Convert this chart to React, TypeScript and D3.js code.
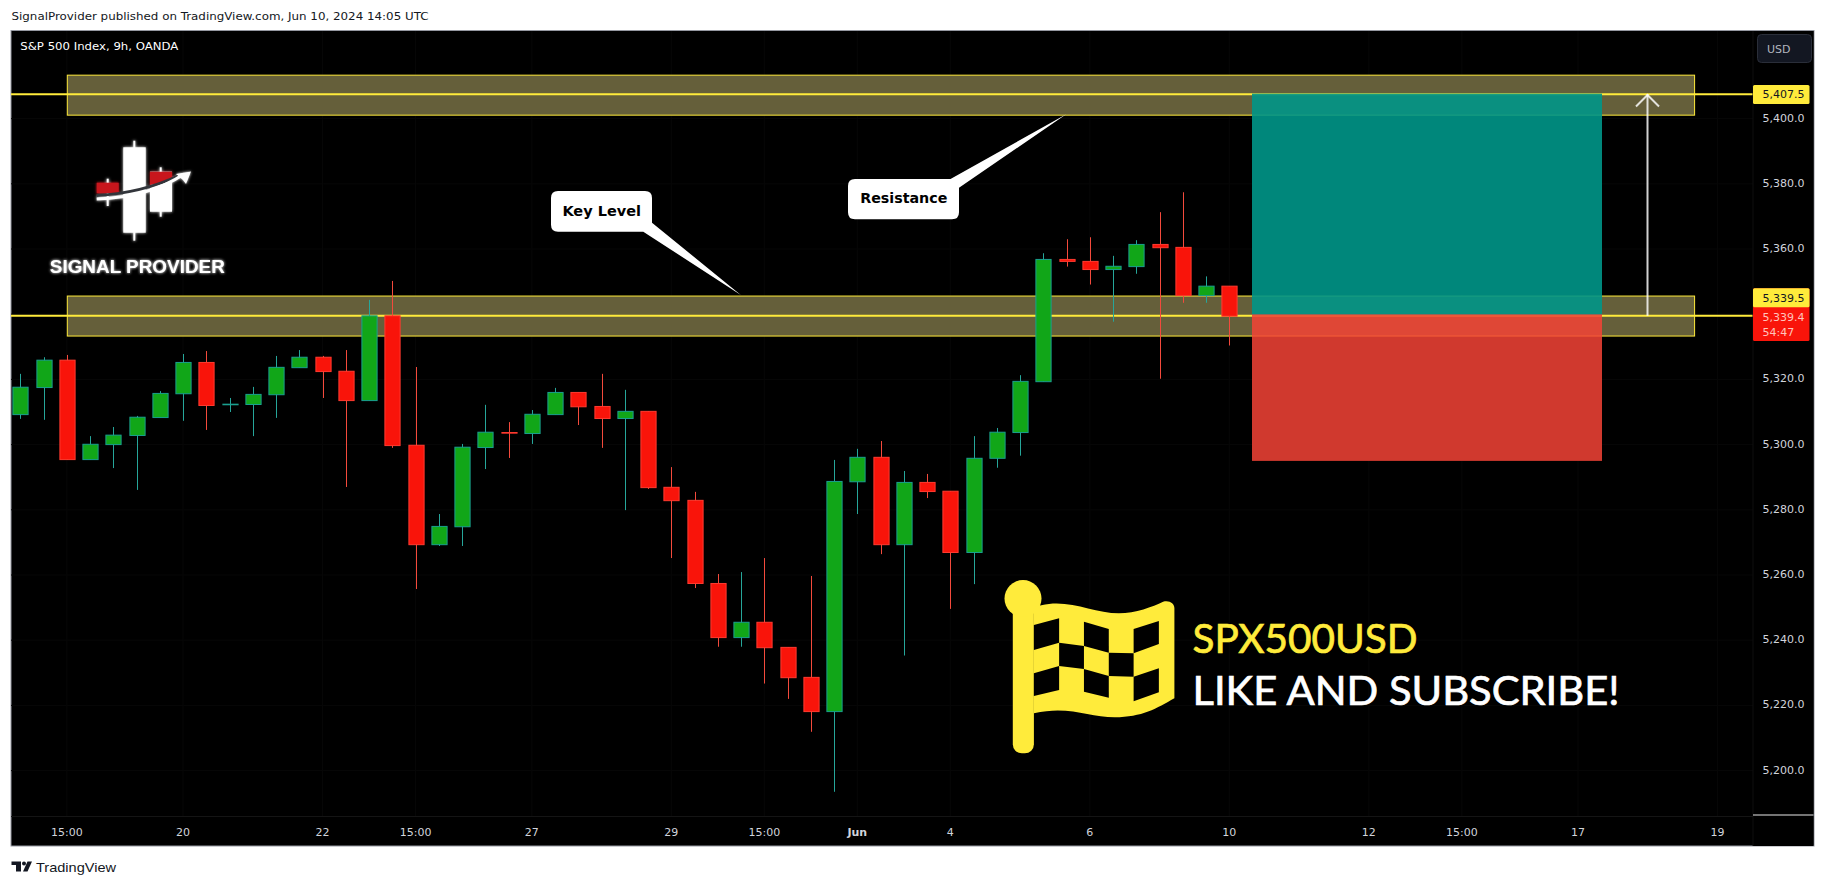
import React from "react";
import * as d3 from "d3";

const opens = [5309.2,5317.5,5325.9,5295.4,5300.0,5302.8,5308.3,5315.6,5325.2,5312.3,5312.3,5315.3,5323.6,5326.8,5322.5,5313.5,5339.5,5299.8,5269.3,5274.8,5299.1,5303.7,5303.4,5309.2,5316.0,5311.7,5308.0,5310.2,5286.9,5282.9,5257.4,5240.8,5245.5,5237.8,5228.6,5218.1,5288.6,5296.1,5269.3,5288.4,5285.7,5266.9,5295.8,5303.7,5319.3,5356.8,5356.2,5353.7,5354.6,5361.4,5360.5,5345.7,5348.6];
const highs = [5321.7,5326.8,5327.5,5302.6,5305.4,5308.8,5316.4,5327.8,5328.7,5314.3,5317.7,5327.2,5329.0,5327.2,5329.0,5344.4,5350.2,5323.8,5278.7,5300.2,5312.2,5306.9,5310.6,5317.4,5316.0,5321.7,5316.8,5310.2,5293.1,5285.5,5260.3,5260.9,5265.2,5237.8,5259.7,5295.3,5298.7,5301.1,5291.9,5291.0,5285.7,5302.6,5305.1,5321.3,5358.7,5363.0,5363.6,5357.9,5362.7,5371.3,5377.4,5351.6,5348.6];
const lows = [5307.9,5307.6,5295.4,5295.4,5292.8,5286.1,5308.3,5307.3,5304.5,5310.0,5302.6,5308.2,5323.6,5314.3,5287.0,5313.5,5299.0,5255.7,5268.9,5268.9,5292.5,5295.9,5300.2,5309.2,5306.0,5299.0,5279.9,5286.4,5265.2,5256.0,5238.0,5238.0,5226.7,5222.0,5211.9,5193.5,5278.7,5266.4,5235.3,5283.6,5249.6,5257.2,5292.9,5296.6,5319.3,5354.6,5349.1,5337.7,5352.4,5320.2,5343.5,5343.5,5330.4];
const closes = [5317.6,5325.9,5295.4,5300.1,5302.9,5308.4,5315.7,5325.2,5312.0,5312.4,5315.4,5323.7,5326.8,5322.4,5313.5,5339.5,5299.7,5269.3,5274.9,5299.2,5303.8,5303.6,5309.3,5316.0,5311.6,5308.0,5310.2,5286.8,5282.8,5257.4,5240.8,5245.5,5237.7,5228.5,5218.1,5288.7,5296.1,5269.3,5288.4,5285.6,5266.9,5295.8,5303.8,5319.4,5356.8,5356.2,5353.7,5354.7,5361.4,5360.4,5345.7,5348.6,5339.4];

const priceTicks = [5400, 5380, 5360, 5340, 5320, 5300, 5280, 5260, 5240, 5220, 5200];
const timeTickIndex = [2, 7, 13, 17, 22, 28, 32, 36, 40, 46, 52, 58, 62, 67, 73];
const timeTickLabels = ["15:00", "20", "22", "15:00", "27", "29", "15:00", "Jun", "4", "6", "10", "12", "15:00", "17", "19"];

const resistanceLevel = 5407.5;
const keyLevel = 5339.5;
const lastPrice = 5339.4;
const countdown = "54:47";
const zoneHalfHeight = 6.13;
const stopLevel = 5295;

const FONT = "'DejaVu Sans', sans-serif";
const YEL = "#ffeb3b";

const fmt = d3.format(",.1f");
const y = d3.scaleLinear().domain([5200, 5400]).range([770.6, 118.6]);
const x = d3.scaleLinear().domain([0, 52]).range([20.3, 1229.3]);

const sx = (v: number) => 980 + v / 2.376;
const sy = (v: number) => 560 + v / 3;
const flagOuter =
  "M146,136 C210,115 270,160 330,160 C370,160 410,140 435,125 C450,120 462,130 462,145 L462,415 C420,445 385,472 320,472 C260,472 210,435 128,460 L128,140 Z";
const scalePath = (d: string) =>
  d.replace(/(-?\d+(?:\.\d+)?),(-?\d+(?:\.\d+)?)/g, (_m, a, b) => `${sx(+a).toFixed(1)},${sy(+b).toFixed(1)}`);
const checks: number[][] = [
  [128, 195, 188, 175, 188, 248, 128, 270],
  [188, 248, 247, 258, 247, 327, 188, 318],
  [128, 340, 188, 318, 188, 390, 128, 408],
  [247, 185, 306, 207, 306, 278, 247, 258],
  [247, 327, 306, 348, 306, 413, 247, 395],
  [306, 278, 365, 280, 365, 350, 306, 348],
  [365, 207, 425, 183, 425, 252, 365, 280],
  [365, 350, 425, 325, 425, 397, 365, 424],
];

export default function App() {
  const ryT = y(resistanceLevel);
  const kyT = y(keyLevel);
  const boxL = 67.3;
  const boxR = 1694.6;
  const posL = 1252;
  const posR = 1602;
  const plotL = 11;
  const plotR = 1753;
  const tw = 15.2;
  const zoneH = y(resistanceLevel - zoneHalfHeight) - ryT;
  return (
    <svg width={1825} height={886} style={{ position: "fixed", left: 0, top: 0, background: "#fff" }}>
      <defs>
        <filter id="glow" x="-30%" y="-30%" width="160%" height="160%">
          <feGaussianBlur stdDeviation="1.8" result="b" />
          <feMerge>
            <feMergeNode in="b" />
            <feMergeNode in="SourceGraphic" />
          </feMerge>
        </filter>
      </defs>
      <text x={11.5} y={20} fontFamily={FONT} fontSize={11} fill="#131722" textLength={417} lengthAdjust="spacingAndGlyphs">
        SignalProvider published on TradingView.com, Jun 10, 2024 14:05 UTC
      </text>
      <rect x={11} y={30.5} width={1803} height={815.5} fill="#000" stroke="#9598a1" strokeWidth={1} />

      {priceTicks.map((p) => (
        <line key={p} x1={plotL} x2={plotR} y1={y(p)} y2={y(p)} stroke="#070707" />
      ))}
      {timeTickIndex.map((i, k) => (
        <line key={k} x1={x(i)} x2={x(i)} y1={31} y2={816} stroke="#070707" />
      ))}

      {[ryT, kyT].map((c, i) => (
        <rect key={i} x={boxL} y={c - zoneH + (i === 0 ? 1 : 0.2)} width={boxR - boxL} height={40} fill="#655f3a" stroke={YEL} strokeWidth={1} />
      ))}
      <line x1={plotL} x2={plotR} y1={ryT} y2={ryT} stroke={YEL} strokeWidth={2} />
      <line x1={plotL} x2={plotR} y1={kyT} y2={kyT} stroke={YEL} strokeWidth={2} />

      {opens.map((o, i) => {
        const c = closes[i];
        const up = c >= o;
        const top = y(Math.max(o, c));
        const bot = y(Math.min(o, c));
        const cx = Math.round(x(i)) + 0.5;
        const wick = up ? "#26a69a" : "#f44a3c";
        return (
          <g key={i}>
            <line x1={cx} x2={cx} y1={y(highs[i])} y2={y(lows[i])} stroke={wick} strokeWidth={1} />
            <rect x={cx - tw / 2} y={top} width={tw} height={Math.max(bot - top, 0.6)} fill={up ? "#11a618" : "#f9140a"} stroke={up ? "#1a9f8f" : "#ff3b30"} strokeWidth={1} />
          </g>
        );
      })}

      <rect x={posL} y={ryT - 0.5} width={posR - posL} height={kyT - ryT} fill="#009688" fillOpacity={0.9} />
      <rect x={posL} y={kyT - 1.5} width={posR - posL} height={y(stopLevel) - kyT + 1.5} fill="#f44336" fillOpacity={0.85} />

      <g stroke="#fff" strokeOpacity={0.82} strokeWidth={2} fill="none">
        <line x1={1647.5} x2={1647.5} y1={ryT} y2={kyT} />
        <polyline points={`1636,106.5 1647.5,95 1659,106.5`} />
      </g>

      {/* callouts */}
      <path d="M558,191 L645,191 Q652,191 652,198 L652,222.7 L740.8,295 L643.3,231.7 L558,231.7 Q551,231.7 551,224.7 L551,198 Q551,191 558,191 Z" fill="#fff" />
      <text x={562.4} y={215.7} fontFamily={FONT} fontWeight={700} fontSize={14} fill="#000" textLength={78.6} lengthAdjust="spacingAndGlyphs">Key Level</text>
      <path d="M855,179 L950.5,179 L1066.2,114.3 L959,187.7 L959,212.3 Q959,219.3 952,219.3 L855,219.3 Q848,219.3 848,212.3 L848,186 Q848,179 855,179 Z" fill="#fff" />
      <text x={860.2} y={203.3} fontFamily={FONT} fontWeight={700} fontSize={14} fill="#000" textLength={87.2} lengthAdjust="spacingAndGlyphs">Resistance</text>

      {/* logo */}
      <g filter="url(#glow)">
        <line x1={134.3} x2={134.3} y1={140.7} y2={240.7} stroke="#fff" strokeWidth={2} />
        <rect x={123.3} y={147.3} width={22.4} height={85.4} fill="#fff" />
        <line x1={107.7} x2={107.7} y1={178.7} y2={206} stroke="#fff" strokeWidth={2} />
        <rect x={96.7} y={182.7} width={22} height={10.5} fill="#c8161d" />
        <line x1={160.7} x2={160.7} y1={167.3} y2={216.7} stroke="#fff" strokeWidth={2} />
        <rect x={150} y={171.7} width={22} height={40} fill="#fff" />
        <path d="M150,171.7 L172,171.7 L172,180 Q160,184 150,185 Z" fill="#c8161d" />
        <path d="M96.7,195.5 C125,194 155,187 180,175" fill="none" stroke="#33363b" strokeWidth={3} />
        <path d="M96.7,199 C130,198 160,190 184,174" fill="none" stroke="#fff" strokeWidth={3} />
        <path d="M191,171.5 L176,174 L183,180 L186,184 Z" fill="#fff" />
      </g>
      <text x={49.8} y={272.7} fontFamily="'Liberation Sans', sans-serif" fontWeight={700} fontSize={18.5} fill="#fff" filter="url(#glow)" textLength={175} lengthAdjust="spacingAndGlyphs">SIGNAL PROVIDER</text>

      {/* flag */}
      <rect x={1012.8} y={590} width={21.1} height={163.3} rx={9} fill={YEL} />
      <circle cx={1023} cy={598.5} r={18.5} fill={YEL} />
      <path d={scalePath(flagOuter)} fill={YEL} />
      {checks.map((q, i) => (
        <path key={i} d={d3.line()(d3.range(0, 8, 2).map((k) => [sx(q[k]), sy(q[k + 1])]) as [number, number][]) + "Z"} fill="#000" />
      ))}
      <text x={1192.5} y={652.7} fontFamily="Lato, sans-serif" fontWeight={400} fontSize={41} fill={YEL} stroke={YEL} strokeWidth={0.7} textLength={225} lengthAdjust="spacingAndGlyphs">SPX500USD</text>
      <text x={1192.5} y={705} fontFamily="Lato, sans-serif" fontWeight={400} fontSize={41} fill="#fff" stroke="#fff" strokeWidth={0.7} textLength={427} lengthAdjust="spacingAndGlyphs">LIKE AND SUBSCRIBE!</text>

      <text x={20.3} y={50} fontFamily={FONT} fontSize={11} fill="#fff" textLength={158} lengthAdjust="spacingAndGlyphs">S&amp;P 500 Index, 9h, OANDA</text>

      {/* price axis */}
      <rect x={1753} y={31} width={60.5} height={815} fill="#000" />
      <line x1={1753} x2={1753} y1={31} y2={846} stroke="#0e0e0e" />
      <rect x={1757.5} y={34.5} width={54} height={28} rx={4} fill="#131722" stroke="#2a2e39" />
      <text x={1767} y={52.5} fontFamily={FONT} fontSize={11} fill="#b2b5be">USD</text>
      {priceTicks.map((p) => (
        <text key={p} x={1762.5} y={y(p) + 3} fontFamily={FONT} fontSize={11} fill="#d1d4dc">{fmt(p)}</text>
      ))}
      <rect x={1753} y={85} width={56.5} height={19} rx={1.5} fill={YEL} />
      <text x={1762.5} y={ryT + 4} fontFamily={FONT} fontSize={11} fill="#131722">{fmt(resistanceLevel)}</text>
      <rect x={1753} y={288.3} width={56.5} height={52.7} rx={1.5} fill="#f9140a" />
      <rect x={1753} y={288.3} width={56.5} height={19} rx={1.5} fill={YEL} />
      <text x={1762.5} y={302} fontFamily={FONT} fontSize={11} fill="#131722">{fmt(keyLevel)}</text>
      <text x={1762.5} y={320.7} fontFamily={FONT} fontSize={11} fill="#ffc4bd">{fmt(lastPrice)}</text>
      <text x={1762.5} y={335.7} fontFamily={FONT} fontSize={11} fill="#ffc4bd">{countdown}</text>

      {/* time axis */}
      <line x1={11} x2={1753} y1={816.5} y2={816.5} stroke="#141414" />
      <line x1={1753} x2={1813.5} y1={815} y2={815} stroke="#e8e8e8" strokeWidth={1} />
      {timeTickIndex.map((i, k) => (
        <text key={k} x={x(i)} y={836} textAnchor="middle" fontFamily={FONT} fontSize={11} fontWeight={timeTickLabels[k] === "Jun" ? 700 : 400} fill="#d1d4dc">{timeTickLabels[k]}</text>
      ))}

      {/* footer logo */}
      <g fill="#131722">
        <path d="M11.5,861.5 L21,861.5 L21,871.5 L16,871.5 L16,865 L11.5,865 Z" />
        <circle cx={24} cy={863.5} r={2} />
        <path d="M27.5,861.5 L32,861.5 L27.5,871.5 L23,871.5 Z" />
      </g>
      <text x={36} y={871.5} fontFamily="'Liberation Sans', sans-serif" fontSize={13} fill="#131722" textLength={80} lengthAdjust="spacingAndGlyphs">TradingView</text>
    </svg>
  );
}
